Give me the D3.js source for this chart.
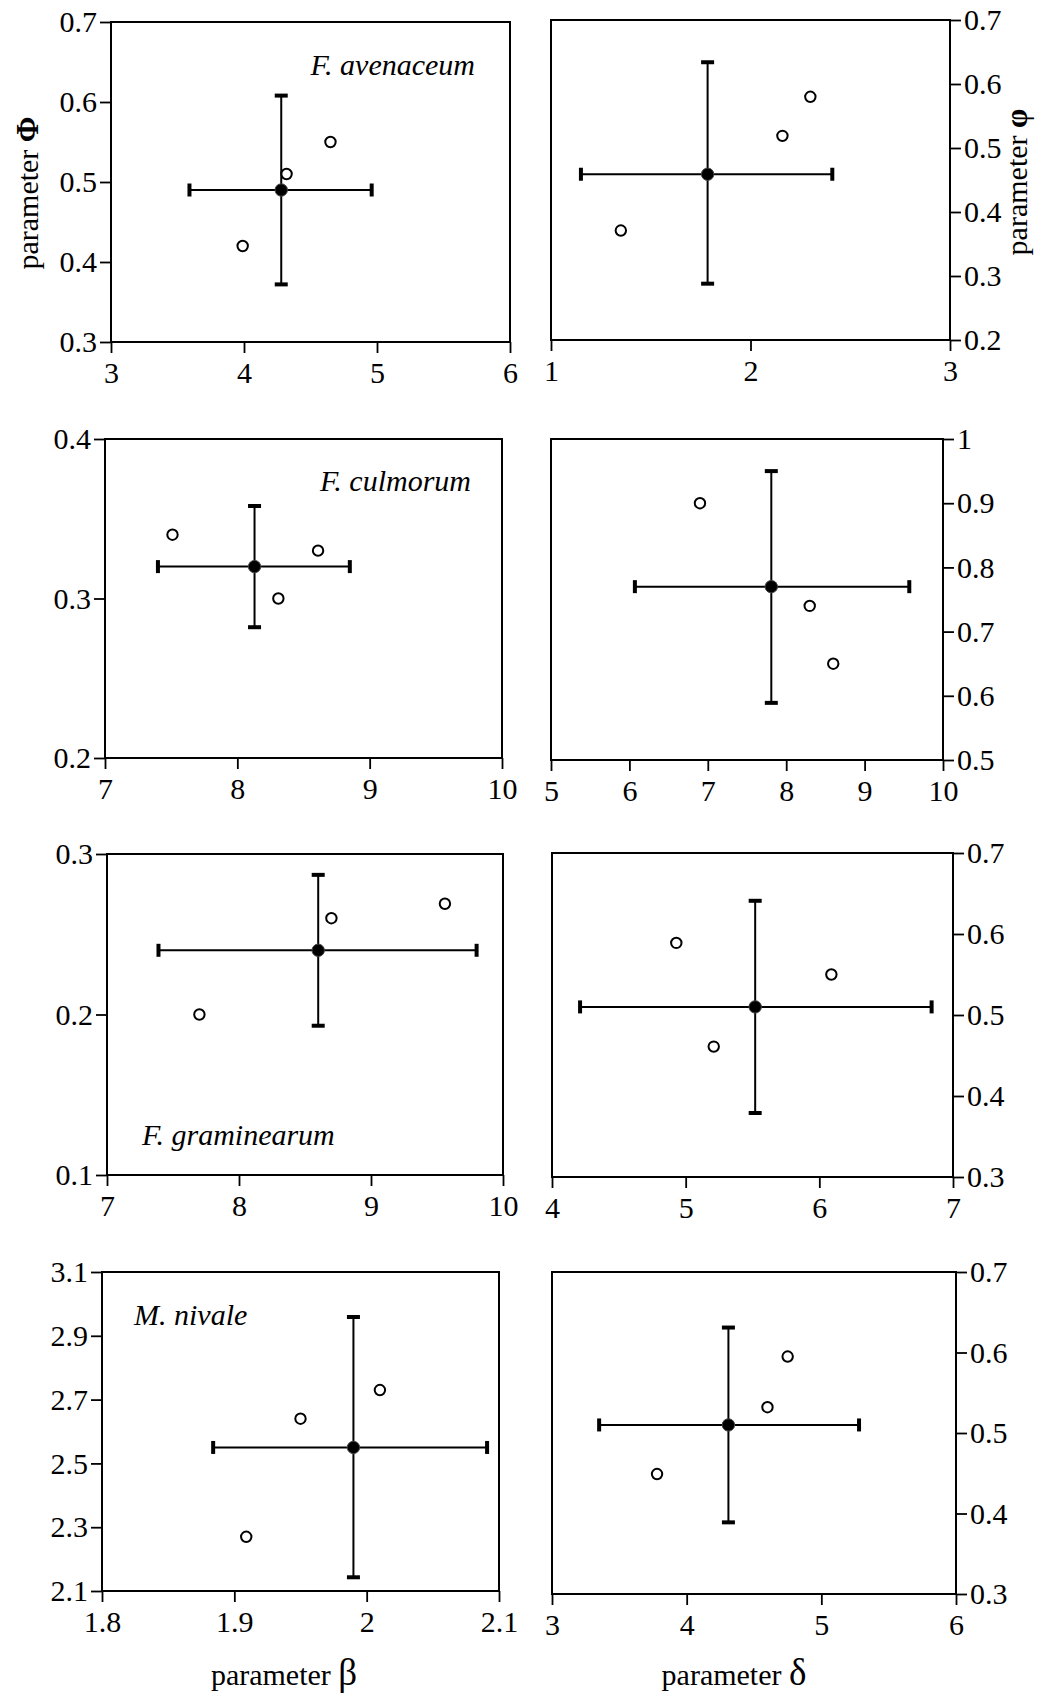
<!DOCTYPE html>
<html>
<head>
<meta charset="utf-8">
<script src="https://cdn.jsdelivr.net/npm/d3@7"></script>
<style>
  body { margin: 0; background: #fff; }
  svg text { font-family: "Liberation Serif", "Times New Roman", serif; fill: #000; }
</style>
</head>
<body>
<svg id="chart" width="1039" height="1697"></svg>
<script>
'use strict';

// species, one per row
var species = ["F. avenaceum", "F. culmorum", "F. graminearum", "M. nivale"];

// left column: parameter beta (x) vs parameter Phi (y)
var betaMean = [4.28, 8.13, 8.60, 1.99];
var betaLo   = [3.59, 7.40, 7.39, 1.884];
var betaHi   = [4.96, 8.85, 9.80, 2.091];
var bigPhiMean = [0.49, 0.32, 0.24, 2.55];
var bigPhiLo   = [0.372, 0.282, 0.193, 2.143];
var bigPhiHi   = [0.608, 0.358, 0.287, 2.959];
var betaPts   = [[3.99, 4.32, 4.65], [7.51, 8.61, 8.31], [7.70, 8.70, 9.56], [1.909, 1.95, 2.01]];
var bigPhiPts = [[0.42, 0.51, 0.55], [0.34, 0.33, 0.30], [0.20, 0.26, 0.269], [2.27, 2.64, 2.73]];
var betaTicks   = [[3, 4, 5, 6], [7, 8, 9, 10], [7, 8, 9, 10], [1.8, 1.9, 2, 2.1]];
var bigPhiTicks = [[0.3, 0.4, 0.5, 0.6, 0.7], [0.2, 0.3, 0.4], [0.1, 0.2, 0.3], [2.1, 2.3, 2.5, 2.7, 2.9, 3.1]];

// right column: parameter delta (x) vs parameter phi (y)
var deltaMean = [1.785, 7.81, 5.52, 4.31];
var deltaLo   = [1.15, 6.07, 4.21, 3.35];
var deltaHi   = [2.41, 9.57, 6.84, 5.28];
var phiMean = [0.459, 0.77, 0.51, 0.51];
var phiLo   = [0.288, 0.589, 0.379, 0.389];
var phiHi   = [0.634, 0.95, 0.641, 0.631];
var deltaPts = [[1.35, 2.16, 2.30], [6.90, 8.30, 8.60], [4.93, 5.21, 6.09], [3.78, 4.60, 4.75]];
var phiPts   = [[0.371, 0.519, 0.58], [0.90, 0.74, 0.65], [0.589, 0.461, 0.55], [0.449, 0.532, 0.595]];
var deltaTicks = [[1, 2, 3], [5, 6, 7, 8, 9, 10], [4, 5, 6, 7], [3, 4, 5, 6]];
var phiTicks   = [[0.2, 0.3, 0.4, 0.5, 0.6, 0.7], [0.5, 0.6, 0.7, 0.8, 0.9, 1], [0.3, 0.4, 0.5, 0.6, 0.7], [0.3, 0.4, 0.5, 0.6, 0.7]];

// layout of the panels (pixels)
var leftBoxes  = [{l:111,r:510,t:22,b:342}, {l:105,r:502,t:439,b:758}, {l:107,r:503,t:854,b:1175}, {l:102,r:499,t:1272,b:1591}];
var rightBoxes = [{l:551,r:950,t:20,b:340}, {l:551,r:943,t:439,b:760}, {l:552,r:953,t:853,b:1177}, {l:552,r:956,t:1272,b:1594}];
var speciesPos = [{x:475,y:75,a:"end"}, {x:471,y:491,a:"end"}, {x:142,y:1145,a:"start"}, {x:134,y:1325,a:"start"}];

var FS = 30;
var svg = d3.select("#chart");
var fmt = function(d){ return String(+d.toFixed(2)); };

function drawPanel(box, xTicks, yTicks, side, xm, xlo, xhi, ym, ylo, yhi, px, py){
	var g = svg.append("g");
	var x = d3.scaleLinear().domain([xTicks[0], xTicks[xTicks.length-1]]).range([box.l, box.r]);
	var y = d3.scaleLinear().domain([yTicks[0], yTicks[yTicks.length-1]]).range([box.b, box.t]);

	var xa = g.append("g").attr("transform", "translate(0," + box.b + ")")
		.call(d3.axisBottom(x).tickValues(xTicks).tickFormat(fmt).tickSize(11).tickSizeOuter(0).tickPadding(9));
	var ya;
	if (side == "left") {
		ya = g.append("g").attr("transform", "translate(" + box.l + ",0)")
			.call(d3.axisLeft(y).tickValues(yTicks).tickFormat(fmt).tickSize(11).tickSizeOuter(0).tickPadding(3));
	} else {
		ya = g.append("g").attr("transform", "translate(" + box.r + ",0)")
			.call(d3.axisRight(y).tickValues(yTicks).tickFormat(fmt).tickSize(11).tickSizeOuter(0).tickPadding(3));
	}
	[xa, ya].forEach(function(a){
		a.select(".domain").remove();
		a.selectAll(".tick line").attr("stroke", "#000").attr("stroke-width", 1.8);
		a.selectAll(".tick text").style("font-size", FS + "px").attr("fill", "#000");
	});

	// frame
	g.append("rect")
		.attr("x", box.l).attr("y", box.t)
		.attr("width", box.r - box.l).attr("height", box.b - box.t)
		.attr("fill", "none").attr("stroke", "#000").attr("stroke-width", 2);

	// error bars
	var cx = x(xm), cy = y(ym);
	g.append("line").attr("x1", x(xlo)).attr("x2", x(xhi)).attr("y1", cy).attr("y2", cy)
		.attr("stroke", "#000").attr("stroke-width", 2);
	g.append("line").attr("x1", cx).attr("x2", cx).attr("y1", y(ylo)).attr("y2", y(yhi))
		.attr("stroke", "#000").attr("stroke-width", 2);
	var cap = 6.5;
	[xlo, xhi].forEach(function(v){
		g.append("line").attr("x1", x(v)).attr("x2", x(v)).attr("y1", cy - cap).attr("y2", cy + cap)
			.attr("stroke", "#000").attr("stroke-width", 4);
	});
	[ylo, yhi].forEach(function(v){
		g.append("line").attr("x1", cx - cap).attr("x2", cx + cap).attr("y1", y(v)).attr("y2", y(v))
			.attr("stroke", "#000").attr("stroke-width", 4);
	});

	// open circles: individual values
	g.selectAll("circle.pt").data(px).enter().append("circle")
		.attr("class", "pt")
		.attr("cx", function(d){ return x(d); })
		.attr("cy", function(d, i){ return y(py[i]); })
		.attr("r", 5.2)
		.attr("fill", "#fff").attr("stroke", "#000").attr("stroke-width", 2);

	// mean
	g.append("circle").attr("cx", cx).attr("cy", cy).attr("r", 6.2)
		.attr("fill", "#000").attr("stroke", "#444").attr("stroke-width", 1);
}

for (var i = 0; i < species.length; i++) {
	drawPanel(leftBoxes[i], betaTicks[i], bigPhiTicks[i], "left",
		betaMean[i], betaLo[i], betaHi[i], bigPhiMean[i], bigPhiLo[i], bigPhiHi[i], betaPts[i], bigPhiPts[i]);
	drawPanel(rightBoxes[i], deltaTicks[i], phiTicks[i], "right",
		deltaMean[i], deltaLo[i], deltaHi[i], phiMean[i], phiLo[i], phiHi[i], deltaPts[i], phiPts[i]);

	svg.append("text")
		.attr("x", speciesPos[i].x).attr("y", speciesPos[i].y)
		.attr("text-anchor", speciesPos[i].a)
		.style("font-size", "30px").style("font-style", "italic")
		.text(species[i]);
}

// axis titles
function title(transform, word, greek, bold, gsize){
	var t = svg.append("text")
		.attr("transform", transform)
		.attr("text-anchor", "middle").style("font-size", FS + "px");
	t.append("tspan").text(word + " ");
	t.append("tspan").style("font-size", gsize + "px").style("font-weight", bold ? "bold" : "normal").text(greek);
}
title("translate(38,193) rotate(-90)", "parameter", "Φ", true, 31);
title("translate(1027,182) rotate(-90)", "parameter", "φ", true, 31);
title("translate(284,1685)", "parameter", "β", false, 37);
title("translate(734,1685)", "parameter", "δ", false, 37);
</script>
</body>
</html>
